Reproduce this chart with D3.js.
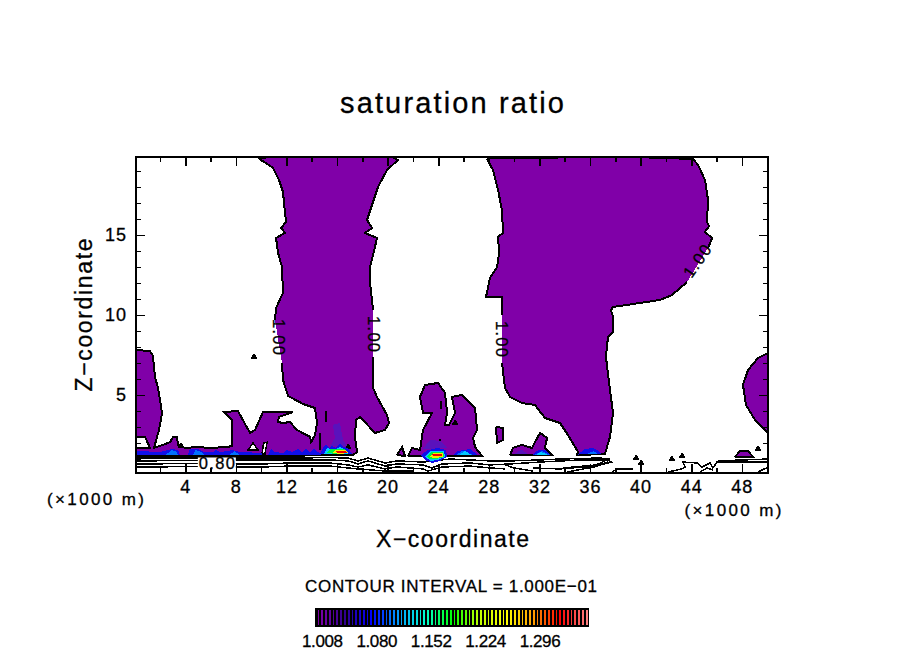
<!DOCTYPE html>
<html><head><meta charset="utf-8">
<script src="https://cdn.jsdelivr.net/npm/d3@7/dist/d3.min.js"></script>
<style>html,body{margin:0;padding:0;background:#fff}svg{display:block}text{font-family:"Liberation Sans",Arial,sans-serif;fill:#000;stroke:#000;stroke-width:.3px}</style>
</head><body><svg id="c" width="904" height="654"></svg>
<script>
// ---- data (x and z in units of 1000 m); null = outline broken for a contour label
const xMajor = [4,8,12,16,20,24,28,32,36,40,44,48];
const xMinor = [2,6,10,14,18,22,26,30,34,38,42,46,50];
const zMajor = [5,10,15];
const zMinor = [1,2,3,4,6,7,8,9,11,12,13,14,16,17,18,19];
const legendLabels = [1.008,1.080,1.152,1.224,1.296];
const legendLevels = d3.range(72);
const legendColors = ["#8000a8","#300090","#0000ff","#00a0ff","#00ffd0","#00ff00","#c0ff00","#ffff00","#ffa000","#ff0000","#ff8080"];

const westRegion = [[.11,7.81],[1.22,7.75],[1.45,7.44],[1.61,6.13],[1.85,5.44],[2.17,3.88],[1.93,2.81],[1.53,1.69],[2.25,1.88],[2.80,2.06],[3.04,2.38],[3.35,2.38],[3.43,1.88],[3.98,1.69],[4.93,1.75],[5.96,1.69],[7.30,1.75],[7.70,1.81],[7.70,3.44],[7.07,3.94],[8.17,4.00],[9.12,2.63],[9.52,2.81],[10.15,3.94],[12.52,3.94],[11.41,3.63],[11.34,3.31],[11.73,3.25],[12.28,3.31],[12.84,2.81],[13.87,2.38],[13.95,2.06],[14.26,2.50],[14.42,3.25],[14.26,4.19],[13.31,4.44],[12.13,4.94],[11.73,5.94],[11.65,7.00],null,[11.10,9.69],[11.18,10.44],[11.73,11.38],[11.65,13.0],[11.34,13.88],[11.18,14.81],[11.89,15.13],[11.57,15.44],[11.97,15.81],[11.89,16.38],[11.73,17.69],[11.41,18.44],[10.94,19.19],[9.91,19.75],[10.55,19.88],[20.35,19.88],[20.82,19.69],[19.95,19.06],[19.24,18.0],[18.37,15.94],[18.77,15.44],[18.21,15.13],[19.16,14.81],[19.0,14.25],[18.61,13.0],[18.61,12.0],[18.85,10.31],null,[18.85,7.38],[18.85,5.44],[19.16,4.88],[19.95,3.75],[20.11,3.25],[19.79,2.81],[19.0,2.63],[17.82,3.63],[17.50,3.44],[17.42,2.38],[17.58,1.44],[17.26,1.25],[10.07,1.19],[.11,1.19],[.11,1.69],[1.22,1.69],[.82,2.38],[.11,2.38]];
const centralRegion = [[27.86,19.75],[28.33,19.06],[28.73,17.81],[29.04,16.56],[29.12,15.13],[28.73,14.88],[28.81,13.88],[28.65,13.0],[28.09,12.31],[27.78,11.13],[29.04,11.13],[29.04,10.0],null,[29.04,7.0],[29.28,5.44],[29.68,4.88],[30.62,4.5],[31.65,4.38],[32.44,3.56],[33.63,3.25],[34.26,2.5],[35.05,1.44],[34.98,1.25],[37.18,1.31],[37.58,2.38],[37.82,3.88],[37.58,5.31],[37.26,7.38],[37.42,8.63],[37.82,8.94],[37.82,9.88],[37.66,10.31],[37.82,10.5],[41.54,10.94],[42.48,11.25],[43.67,12.06],null,[45.33,14.19],[45.65,14.81],[45.09,15.19],[45.41,15.56],[45.25,15.81],[45.33,17.19],[45.09,18.44],[44.54,19.38],[44.15,19.75],[39.32,19.88],[28.25,19.81]];
const eastBump = [[50.1,7.63],[49.28,7.31],[48.49,6.56],[48.09,5.63],[48.33,4.38],[49.04,3.44],[50.1,2.63]];
const blobA = [[20.74,1.25],[21.14,1.75],[21.37,1.19]];
const blobB = [[21.61,1.19],[21.93,1.69],[22.56,1.56],[22.80,2.81],[23.51,3.88],[22.80,3.88],[22.56,4.88],[22.96,5.63],[23.98,5.75],[24.54,5.13],[24.70,3.88],[24.54,3.13],[24.85,3.13],[25.33,3.88],[25.09,4.88],[25.88,5.0],[26.91,4.19],[27.07,2.81],[26.76,2.31],[26.91,1.75],[27.46,1.19]];
const blobC = [[28.57,3.0],[29.12,2.94],[29.12,2.19],[28.65,2.0]];
const blobD = [[29.68,1.25],[29.91,1.69],[30.62,1.88],[31.41,1.69],[31.65,2.06],[32.05,2.63],[32.6,2.31],[32.44,1.69],[32.99,1.25]];
const blobE = [[47.46,1.13],[47.86,1.5],[48.49,1.5],[48.89,1.13]];
const holes = [[[8.96,1.56],[9.36,2.0],[9.76,1.56]],[[10.07,1.3],[10.2,2.0],[10.47,2.05],[10.3,1.3]]];

const faintPatches = [[[15.68,3.13],[16.24,3.25],[16.47,2.19],[16.79,1.81],[15.45,1.81],[15.84,2.31]],[[23.35,2.19],[24.14,2.13],[24.77,1.69],[22.8,1.63]],[[30.0,1.3],[30.6,1.6],[31.1,1.3]]];
const bluePatches = [[[.11,1.5],[2.01,1.44],[2.96,1.63],[3.43,1.56],[3.59,1.25],[4.22,1.25],[4.38,1.63],[5.01,1.63],[5.49,1.44],[6.28,1.44],[6.43,1.56],[6.75,1.44],[7.38,1.5],[7.70,1.56],[8.33,1.44],[10.07,1.38],[10.07,1.25],[.11,1.25]],
 [[10.55,1.25],[10.78,1.63],[11.02,1.44],[11.73,1.38],[12.05,1.56],[12.44,1.44],[12.92,1.63],[13.23,1.44],[13.55,1.63],[13.87,1.44],[14.18,1.63],[14.5,1.44],[14.81,1.25]],
 [[14.66,1.31],[14.89,1.69],[15.13,1.94],[15.37,1.69],[15.60,1.81],[15.92,1.69],[16.24,1.94],[16.55,1.75],[16.87,1.69],[17.19,1.31]],
 [[22.64,1.25],[23.19,1.56],[23.98,1.69],[24.62,1.56],[24.70,1.13],[24.14,.88],[23.51,.75],[22.96,.94]],
 [[25.17,1.25],[25.57,1.5],[26.51,1.63],[27.15,1.25]],[[31.41,1.25],[31.9,1.56],[32.52,1.56],[32.91,1.25]],[[35.05,1.28],[35.55,1.6],[36.2,1.69],[36.7,1.5],[36.9,1.31]]];
const midPatches = [[[2.4,1.25],[2.96,1.56],[3.35,1.44],[3.4,1.25]],[[4.6,1.25],[4.8,1.56],[5.3,1.44],[5.5,1.25]],[[7.5,1.25],[7.9,1.5],[8.3,1.25]],[[35.7,1.31],[36.3,1.5],[36.6,1.31]],[[25.4,1.25],[25.9,1.5],[26.8,1.25]],[[31.6,1.25],[32.2,1.5],[32.8,1.25]]];
const cyanPatches = [[[14.97,1.31],[15.21,1.69],[15.45,1.63],[15.92,1.63],[16.24,1.75],[16.55,1.63],[16.95,1.31]],[[22.96,1.13],[23.35,1.5],[24.46,1.5],[24.54,1.13],[23.98,.94],[23.43,.88]],[[25.65,1.25],[26.12,1.5],[26.67,1.25]],[[31.73,1.25],[32.13,1.44],[32.68,1.25]]];
const greenPatches = [[[15.21,1.38],[15.45,1.63],[16.63,1.63],[16.87,1.38],[15.92,1.31]],[[23.11,1.13],[23.51,1.44],[24.38,1.44],[24.46,1.13],[23.82,1.0],[23.35,.97]]];
const yellowPatches = [[[15.68,1.38],[15.92,1.56],[16.71,1.56],[16.87,1.38],[16.24,1.31]],[[23.35,1.13],[23.67,1.38],[24.38,1.38],[24.42,1.13],[23.67,1.06]]];
const redPatches = [[[15.92,1.5],[16.71,1.5],[16.79,1.38],[16.0,1.38]],[[23.51,1.31],[24.30,1.31],[24.30,1.16],[23.59,1.16]]];

const groundLines = [
 [[.11,1.06],[5.17,1.06],[10.07,1.06],[12.28,1.06],[15.45,1.09],[16.87,1.06],[17.66,.88],[18.45,1.06],[19.8,.75],[20.74,.88],[22.8,.81],[24.93,1.0],[26.51,.94],[28.09,.88],[29.68,.88],[32.05,.94],[33.63,1.0],[36.79,1.06],[37.58,1.0]],
 [[.11,.88],[5.17,.91],[10.07,.94],[12.28,.94],[15.45,.94],[16.87,.88],[17.66,.69],[18.45,.88],[19.8,.56],[20.74,.69],[22.8,.63],[23.5,.44],[24.3,.69],[26.51,.75],[28.09,.63],[29.68,.69],[32.05,.81],[35.2,.94],[37.4,.94],[37.7,.81],[36.5,.56],[33.6,.38],[31.5,.44]],
 [[.11,.69],[5.17,.72],[10.07,.69],[12.28,.75],[15.45,.75],[16.87,.63],[17.66,.5],[18.45,.63],[19.8,.38],[20.74,.5],[22.8,.38],[23.2,.25],[24.3,.5],[26.51,.56],[28.09,.44],[29.3,.38]],
 [[.11,.5],[5.17,.53],[10.07,.5],[12.28,.56],[15.45,.56],[16.87,.44],[17.66,.38],[19.8,.25],[22.0,.25]],
 [[29.3,.63],[30.0,.44],[31.5,.25]],
 [[33.9,.44],[36.5,.63],[37.3,.94]],
 [[34.2,.19],[36.3,.5],[37.4,.81]],
 [[37.74,.19],[38.13,.38],[39.4,.38]],
 [[42.16,.19],[43.27,.38],[43.51,.5],[43.35,.81],[44.46,.75],[44.85,.5],[45.48,.75],[45.72,.44],[46.04,.81],[48.09,.81],[50.1,.81]],
 [[46.12,.88],[50.1,1.0]],
 [[44.7,.19],[45.25,.44],[45.72,.31]],
 [[49.28,.19],[50.1,.5]]
];
const dashes = [[[14.66,2.63],[14.66,1.56]],[[15.13,4.0],[15.13,3.31]],[[24.22,4.6],[24.22,4.1]],[[24.14,2.25],[24.14,1.9]]];
const specks = [[9.44,7.38],[25.33,3.25],[39.64,1.06],[40.04,.75],[42.48,1.0],[43.28,1.19],[49.28,1.63],[3.67,1.81],[16.87,1.75]];
const contourLabels = [
 {text:"0.80",x:6.5,z:.72,angle:0,bg:true},
 {text:"1.00",x:11.41,z:8.63,angle:90},
 {text:"1.00",x:18.92,z:8.81,angle:90},
 {text:"1.00",x:29.04,z:8.5,angle:90},
 {text:"1.00",x:44.46,z:13.38,angle:-55}
];

// ---- drawing
const PURPLE="#8000a8";
const svg=d3.select("#c");
const x=d3.scaleLinear().domain([.11,50.07]).range([136,768]);
const z=d3.scaleLinear().domain([.125,19.875]).range([473,157]);
const path=d3.line().x(d=>x(d[0])).y(d=>z(d[1])).defined(d=>d!==null);
svg.append("defs").append("clipPath").attr("id","plot").append("rect").attr("x",136).attr("y",157).attr("width",632).attr("height",316);
const plot=svg.append("g").attr("clip-path","url(#plot)").attr("shape-rendering","crispEdges");

const regions=[westRegion,centralRegion,eastBump,blobA,blobB,blobC,blobD,blobE];
plot.selectAll(".fill").data(regions).join("path").attr("fill",PURPLE).attr("d",d=>path(d.filter(p=>p))+"Z");
plot.append("g").selectAll("path").data(holes).join("path").attr("fill","#fff").attr("stroke","#000").attr("stroke-width",1.5).attr("d",d=>path(d)+"Z");
plot.append("g").selectAll("path").data(regions).join("path").attr("fill","none").attr("stroke","#000").attr("stroke-width",2).attr("d",d=>path([...d,d[0]]));
plot.append("g").selectAll("path").data(dashes).join("path").attr("fill","none").attr("stroke","#000").attr("stroke-width",2).attr("d",path);
plot.append("g").selectAll("path").data(specks).join("path").attr("fill","#000")
  .attr("transform",d=>`translate(${x(d[0])},${z(d[1])})`).attr("d",d3.symbol().type(d3.symbolTriangle).size(22));
plot.append("g").selectAll("path").data(groundLines).join("path").attr("fill","none").attr("stroke","#000").attr("stroke-width",1.5).attr("d",path);
const patchLevels=[[faintPatches,"#5a12bc"],[bluePatches,"#1010e8"],[midPatches,"#0070ff"],[cyanPatches,"#00c8ff"],[greenPatches,"#00f040"],[yellowPatches,"#f8e800"],[redPatches,"#f00000"]];
patchLevels.forEach(([polys,col])=>plot.append("g").selectAll("path").data(polys).join("path").attr("fill",col).attr("d",d=>path(d)+"Z"));

// contour labels
const lab=svg.append("g").selectAll("g").data(contourLabels).join("g").attr("transform",d=>`translate(${x(d.x)},${z(d.z)}) rotate(${d.angle})`);
lab.filter(d=>d.bg).append("rect").attr("x",-19).attr("y",-6).attr("width",38).attr("height",12).attr("fill","#fff");
lab.append("text").attr("text-anchor","middle").attr("dy",".36em").attr("font-size",16.5).attr("textLength",36).text(d=>d.text);

// axes
function styleAxis(g){g.select(".domain").remove();g.selectAll("line").attr("stroke","#000").attr("stroke-width",1.6);g.attr("shape-rendering","crispEdges");}
function labels(g){g.selectAll("text").attr("font-size",18).attr("letter-spacing","1px").attr("fill","#000").attr("font-family","Liberation Sans");}
const ax=(gen,ty,tx)=>svg.append("g").attr("transform",`translate(${tx},${ty})`).call(gen).call(styleAxis);
ax(d3.axisBottom(x).tickValues(xMinor).tickSize(-5).tickFormat(""),473,0);
ax(d3.axisTop(x).tickValues(xMinor).tickSize(-5).tickFormat(""),157,0);
ax(d3.axisTop(x).tickValues(xMajor).tickSize(-9).tickFormat(""),157,0);
ax(d3.axisRight(z).tickValues(zMinor).tickSize(-5).tickFormat(""),0,768);
ax(d3.axisRight(z).tickValues(zMajor).tickSize(-9).tickFormat(""),0,768);
ax(d3.axisLeft(z).tickValues(zMinor).tickSize(-5).tickFormat(""),0,136);
ax(d3.axisBottom(x).tickValues(xMajor).tickSizeInner(-9).tickSizeOuter(0).tickPadding(18).tickFormat(d3.format("d")),473,0).call(labels)
  .selectAll("text").attr("dy",".1em");
ax(d3.axisLeft(z).tickValues(zMajor).tickSizeInner(-9).tickSizeOuter(0).tickPadding(9).tickFormat(d3.format("d")),0,136).call(labels);
svg.append("rect").attr("x",136).attr("y",157).attr("width",632).attr("height",316).attr("fill","none").attr("stroke","#000").attr("stroke-width",2).attr("shape-rendering","crispEdges");

function txt(s,px,py,size,len,rot){
  const t=svg.append("text").attr("text-anchor","middle").attr("font-size",size).attr("textLength",len).text(s);
  t.attr("transform",`translate(${px},${py})`+(rot?` rotate(${rot})`:""));
  return t;
}
txt("saturation ratio",452,113,29,224);
txt("X\u2212coordinate",452.5,547,23,153);
txt("Z\u2212coordinate",92,315,23,153,-90);
txt("(\u00d71000 m)",95.5,505,17,97);
txt("(\u00d71000 m)",733,516,17,97);
txt("CONTOUR INTERVAL = 1.000E\u221201",451,592,17,292);

// colour bar
const lx=d3.scaleLinear().domain([1.0,1.36]).range([316.5,588.5]);
const ramp=d3.scaleLinear().domain(legendColors.map((c,i)=>i*71/(legendColors.length-1))).range(legendColors);
const bar=svg.append("g").attr("shape-rendering","crispEdges");
bar.append("rect").attr("x",315).attr("y",608).attr("width",274).attr("height",19).attr("fill","#000");
bar.selectAll(".cell").data(legendLevels).join("rect").attr("class","cell")
  .attr("x",d=>lx(1+d*.005)+1).attr("y",610).attr("width",1.8).attr("height",15).attr("fill",d=>ramp(d));
svg.append("g").selectAll("text").data(legendLabels).join("text")
  .attr("text-anchor","middle").attr("x",d=>lx(d)).attr("y",647).attr("font-size",17).attr("textLength",41).text(d=>d3.format(".3f")(d));
</script></body></html>
